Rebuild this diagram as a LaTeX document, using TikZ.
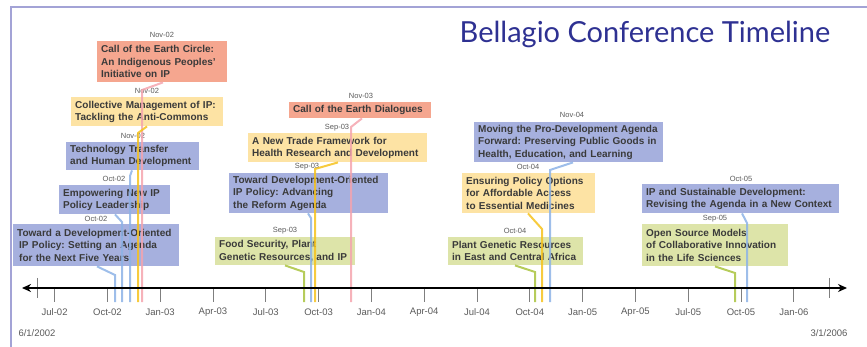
\documentclass[tikz,border=0pt]{standalone}
\usepackage{fontspec}
\setmainfont{Liberation Sans}
\newfontfamily\titlefont{Lato}
\usetikzlibrary{arrows.meta}
\frenchspacing
\definecolor{framec}{HTML}{A3A3D6}
\definecolor{titlec}{HTML}{2E3192}
\definecolor{boxtext}{HTML}{3A3A3A}
\definecolor{salmonf}{HTML}{F5A68F}
\definecolor{yellowf}{HTML}{FDE3A4}
\definecolor{bluef}{HTML}{A6B0DE}
\definecolor{greenf}{HTML}{DDE4A9}
\definecolor{pinkl}{HTML}{F4A4AE}
\definecolor{yell}{HTML}{F6C21C}
\definecolor{bluel}{HTML}{8DB3E6}
\definecolor{greenl}{HTML}{A9C33E}
\definecolor{tickc}{HTML}{7F7F7F}
\definecolor{labc}{HTML}{5A5A5A}
\newcommand{\evbox}[7]{%
  \node[evb, fill=#6, minimum width={(#4-#2)*1pt}, minimum height={(#5-#3)*1pt},
        text width={(#4-#2-8)*1pt}] (#1) at (#2,#3) {#7};}
\begin{document}
\begin{tikzpicture}[x=1pt,y=-1pt,
  evb/.style={anchor=north west, inner xsep=4pt, inner ysep=0pt, align=left,
    font=\fontsize{10}{12.3}\selectfont\bfseries\frenchspacing, text=boxtext},
  datelab/.style={font=\fontsize{7.5}{8}\selectfont, text=labc, inner sep=0pt},
  ticklab/.style={font=\fontsize{9.5}{10}\selectfont, text=labc, inner sep=0pt},
  conn/.style={line width=2pt, opacity=0.85},
  qtick/.style={draw=tickc, line width=1pt}]
\useasboundingbox (0,0) rectangle (867,347);
% frame
\draw[framec, line width=1.2pt] (11,347) -- (11,7) -- (867,7);
% title
\node[font=\titlefont\fontsize{29}{32}\selectfont, text=titlec, anchor=base, inner sep=0pt] (title) at (645,43) {Bellagio Conference Timeline};
% ticks
\foreach \m/\t in {1/Jul-02,4/Oct-02,7/Jan-03,10/Apr-03,13/Jul-03,16/Oct-03,19/Jan-04,22/Apr-04,25/Jul-04,28/Oct-04,31/Jan-05,34/Apr-05,37/Jul-05,40/Oct-05,43/Jan-06}{
  \draw[qtick] ({37+17.6*\m},288) -- ({37+17.6*\m},302);
  \node[ticklab] (t\m) at ({37+17.6*\m},312) {\t};
}
\draw[qtick] (37,278) -- (37,298);
\draw[qtick] (829,278) -- (829,298);
\node[ticklab] (d1) at (37,333) {6/1/2002};
\node[ticklab] (d2) at (829,333) {3/1/2006};
% end coordinates
\coordinate (e1) at (142,302);
\coordinate (e2) at (138,302);
\coordinate (e3) at (130,302);
\coordinate (e4) at (122,302);
\coordinate (e5) at (115,302);
\coordinate (e6) at (351,302);
\coordinate (e7) at (315,302);
\coordinate (e8) at (311,302);
\coordinate (e9) at (304,302);
\coordinate (e10) at (550,302);
\coordinate (e11) at (542,302);
\coordinate (e12) at (535,302);
\coordinate (e13) at (747,302);
\coordinate (e14) at (735,302);
% boxes
\evbox{b1}{97}{41}{227}{82}{salmonf}{Call of the Earth Circle:\\An Indigenous Peoples'\\Initiative on IP}
\evbox{b2}{71}{97}{223}{126}{yellowf}{Collective Management of IP:\\Tackling the Anti-Commons}
\evbox{b3}{66}{142}{199}{170}{bluef}{Technology Transfer\\and Human Development}
\evbox{b4}{59}{185}{170}{214}{bluef}{Empowering New IP\\Policy Leadership}
\evbox{b5}{13}{224}{179}{266}{bluef}{Toward a Development-Oriented\\\hspace*{2pt}IP Policy: Setting an Agenda\\\hspace*{2pt}for the Next Five Years}
\evbox{b6}{289}{102}{431}{118}{salmonf}{Call of the Earth Dialogues}
\evbox{b7}{248}{133}{427}{162}{yellowf}{A New Trade Framework for\\Health Research and Development}
\evbox{b8}{229}{173}{388}{213}{bluef}{Toward Development-Oriented\\IP Policy: Advancing\\the Reform Agenda}
\evbox{b9}{215}{237}{355}{265}{greenf}{Food Security, Plant\\Genetic Resources, and IP}
\evbox{b10}{474}{122}{663}{162}{bluef}{Moving the Pro-Development Agenda\\Forward: Preserving Public Goods in\\Health, Education, and Learning}
\evbox{b11}{462}{173}{595}{213}{yellowf}{Ensuring Policy Options\\for Affordable Access\\to Essential Medicines}
\evbox{b12}{448}{237}{583}{265}{greenf}{Plant Genetic Resources\\in East and Central Africa}
\evbox{b13}{642}{184}{839}{213}{bluef}{IP and Sustainable Development:\\Revising the Agenda in a New Context}
\evbox{b14}{642}{224}{788}{266}{greenf}{Open Source Models\\of Collaborative Innovation\\in the Life Sciences}
% date labels
\node[datelab] (l1) at (162,35) {Nov-02};
\node[datelab] (l2) at (147,91) {Nov-02};
\node[datelab] (l3) at (133,136) {Nov-02};
\node[datelab] (l4) at (114,179) {Oct-02};
\node[datelab] (l5) at (96,219) {Oct-02};
\node[datelab] (l6) at (361,96) {Nov-03};
\node[datelab] (l7) at (337,128) {Sep-03};
\node[datelab] (l8) at (307,167) {Sep-03};
\node[datelab] (l9) at (285,231) {Sep-03};
\node[datelab] (l10) at (572,115) {Nov-04};
\node[datelab] (l11) at (528,167) {Oct-04};
\node[datelab] (l12) at (515,231) {Oct-04};
\node[datelab] (l13) at (741,179) {Oct-05};
\node[datelab] (l14) at (715,219) {Sep-05};
% connectors
\draw[conn, pinkl] ([xshift=66pt]b1.south west) -- (142,90) -- (e1);
\draw[conn, yell] ([xshift=76pt]b2.south west) -- (138,133) -- (e2);
\draw[conn, bluel] ([xshift=66pt]b3.south west) -- (130,176) -- (e3);
\draw[conn, bluel] ([xshift=56pt]b4.south west) -- (122,222) -- (e4);
\draw[conn, bluel] ([xshift=84pt]b5.south west) -- (115,275) -- (e5);
\draw[conn, pinkl] ([xshift=73pt]b6.south west) -- (351,127) -- (e6);
\draw[conn, yell] ([xshift=90pt]b7.south west) -- (315,169) -- (e7);
\draw[conn, bluel] ([xshift=79pt]b8.south west) -- (311,218) -- (e8);
\draw[conn, greenl] ([xshift=70pt]b9.south west) -- (304,272) -- (e9);
\draw[conn, bluel] ([xshift=99pt]b10.south west) -- (550,170) -- (e10);
\draw[conn, yell] ([xshift=66pt]b11.south west) -- (542,229) -- (e11);
\draw[conn, greenl] ([xshift=67pt]b12.south west) -- (535,272) -- (e12);
\draw[conn, bluel] ([xshift=100pt]b13.south west) -- (747,223) -- (e13);
\draw[conn, greenl] ([xshift=73pt]b14.south west) -- (735,273) -- (e14);
% axis
\coordinate (al) at (22,288);
\coordinate (ar) at (847,288);
\draw[line width=1.6pt, {Stealth[length=9pt,width=8pt]}-{Stealth[length=9pt,width=8pt]}] (al) -- (ar);
\end{tikzpicture}
\end{document}
